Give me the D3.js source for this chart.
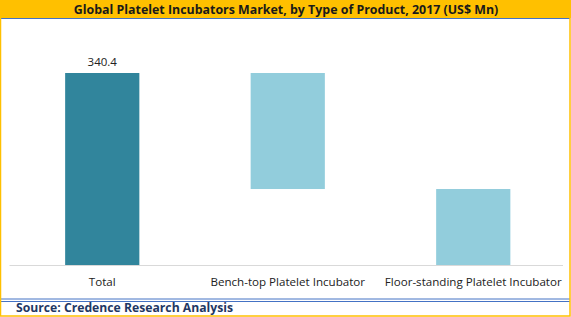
<!DOCTYPE html>
<html>
<head>
<meta charset="utf-8">
<script src="https://cdn.jsdelivr.net/npm/d3@7"></script>
<style>
  body { margin: 0; background: #fff; }
  svg { display: block; }
</style>
</head>
<body>
<div id="chart"></div>
<script>
// Waterfall: total, then the two product types stacked down from it
const categories = ['Total', 'Bench-top Platelet Incubator', 'Floor-standing Platelet Incubator'];
const values = [340.4, 205.7, 134.7];
const barColors = ['#31859C', '#92CDDC', '#92CDDC'];
const valueLabels = ['340.4', '', ''];

const W = 571, H = 317;
const plot = { left: 9.5, right: 566, top: 73, bottom: 265 };

const svg = d3.select('#chart').append('svg')
  .attr('width', W)
  .attr('height', H);

svg.append('rect').attr('width', W).attr('height', H).attr('fill', '#fff');

// Title bar
svg.append('rect')
  .attr('x', 0).attr('y', 0)
  .attr('width', W).attr('height', 18)
  .attr('fill', '#FFC000');
svg.append('line')
  .attr('x1', 0).attr('x2', 570).attr('y1', 18.5).attr('y2', 18.5)
  .attr('stroke', '#4472C4').attr('stroke-width', 1.2);
svg.append('text')
  .attr('x', 286).attr('y', 13.8)
  .attr('text-anchor', 'middle')
  .style('font-family', 'Open Sans, sans-serif')
  .style('font-size', '12.4px')
  .style('font-weight', 'bold')
  .attr('fill', '#1a1a1a')
  .text('Global Platelet Incubators Market, by Type of Product, 2017 (US$ Mn)');

// Scales
const x = d3.scaleBand()
  .domain(categories)
  .range([plot.left, plot.right])
  .paddingInner(0.6)
  .paddingOuter(0.3);

const y = d3.scaleLinear()
  .domain([0, values[0]])
  .range([plot.bottom, plot.top]);

// running tops / bottoms for the waterfall
const bars = [];
let level = values[0];
categories.forEach((c, i) => {
  if (i === 0) {
    bars.push({ c, y0: 0, y1: values[0], color: barColors[i], label: valueLabels[i] });
  } else {
    bars.push({ c, y0: level - values[i], y1: level, color: barColors[i], label: valueLabels[i] });
    level -= values[i];
  }
});

svg.selectAll('.bar')
  .data(bars)
  .enter()
  .append('rect')
  .attr('class', 'bar')
  .attr('x', d => x(d.c))
  .attr('y', d => y(d.y1))
  .attr('width', x.bandwidth())
  .attr('height', d => y(d.y0) - y(d.y1))
  .attr('fill', d => d.color);

svg.selectAll('.label')
  .data(bars.filter(d => d.label))
  .enter()
  .append('text')
  .attr('class', 'label')
  .attr('x', d => x(d.c) + x.bandwidth() / 2)
  .attr('y', d => y(d.y1) - 7)
  .attr('text-anchor', 'middle')
  .style('font-family', 'Open Sans, sans-serif')
  .style('font-size', '11.5px')
  .attr('fill', '#222')
  .text(d => d.label);

// Category axis
const axis = svg.append('g')
  .attr('transform', `translate(0,${plot.bottom})`)
  .call(d3.axisBottom(x).tickSize(0).tickPadding(13));
axis.select('.domain')
  .attr('d', `M${plot.left},0.5H563`)
  .attr('stroke', '#D9D9D9').attr('stroke-width', 1.2);
axis.selectAll('text')
  .style('font-family', 'Open Sans, sans-serif')
  .style('font-size', '11.6px')
  .attr('fill', '#222');

// Source footer
svg.append('line')
  .attr('x1', 0).attr('x2', 570).attr('y1', 299).attr('y2', 299)
  .attr('stroke', '#4472C4').attr('stroke-width', 1);
svg.append('line')
  .attr('x1', 0).attr('x2', 570).attr('y1', 301.5).attr('y2', 301.5)
  .attr('stroke', '#4472C4').attr('stroke-width', 1);
svg.append('text')
  .attr('x', 16).attr('y', 312.3)
  .style('font-family', 'Open Sans, sans-serif')
  .style('font-size', '12.2px')
  .style('font-weight', 'bold')
  .attr('fill', '#1F3864')
  .text('Source: Credence Research Analysis');

// Outer frame
svg.append('rect')
  .attr('x', 0.5).attr('y', 0.5)
  .attr('width', 569.5).attr('height', 315.5)
  .attr('fill', 'none')
  .attr('stroke', '#FFC000')
  .attr('stroke-width', 1.5);
</script>
</body>
</html>
